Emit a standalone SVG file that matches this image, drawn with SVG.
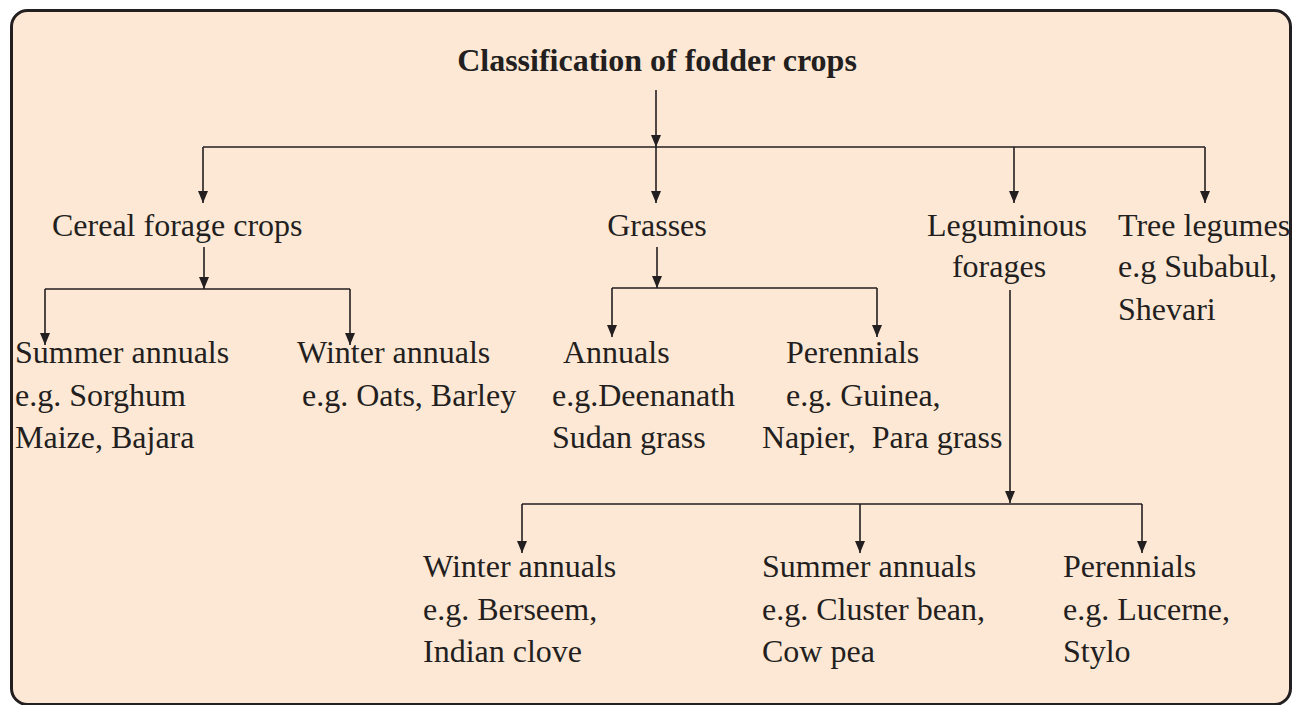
<svg xmlns="http://www.w3.org/2000/svg" width="1293" height="705" viewBox="0 0 1293 705">
<defs>
<marker id="ah" viewBox="0 0 12 10" refX="12" refY="5" markerWidth="12" markerHeight="10" markerUnits="userSpaceOnUse" orient="auto">
<path d="M0,0 L12,5 L0,10 Z" fill="#231f20"/>
</marker>
<style>
text{font-family:"Liberation Serif","Times New Roman",serif;font-size:32px;fill:#231f20;white-space:pre}
.title{font-weight:bold;font-size:32px}
.ln{fill:none;stroke:#231f20;stroke-width:1.6}
.ar{fill:none;stroke:#231f20;stroke-width:1.6;marker-end:url(#ah)}
</style>
</defs>
<rect x="11.5" y="10.5" width="1279" height="694" rx="16" fill="#fde8d6" stroke="#231f20" stroke-width="3"/>
<g id="connectors">
<path class="ar" d="M656,90 V147"/>
<path class="ln" d="M203,147 H1205"/>
<path class="ar" d="M203,147 V203"/>
<path class="ar" d="M656,147 V203"/>
<path class="ar" d="M1014,147 V203"/>
<path class="ar" d="M1205,147 V203"/>
<path class="ar" d="M204,247 V289"/>
<path class="ln" d="M45,289 H350"/>
<path class="ar" d="M45,289 V345"/>
<path class="ar" d="M350,289 V345"/>
<path class="ar" d="M657,247 V288"/>
<path class="ln" d="M612,288 H877"/>
<path class="ar" d="M612,288 V337"/>
<path class="ar" d="M877,288 V337"/>
<path class="ar" d="M1010,290 V503"/>
<path class="ln" d="M522,504 H1142"/>
<path class="ar" d="M522,504 V553"/>
<path class="ar" d="M860,504 V553"/>
<path class="ar" d="M1142,504 V553"/>
</g>
<g id="root"><text class="title" x="657" y="71" text-anchor="middle">Classification of fodder crops</text></g>
<g id="cereal"><text x="52" y="236">Cereal forage crops</text></g>
<g id="grasses"><text x="657" y="236" text-anchor="middle">Grasses</text></g>
<g id="leguminous"><text x="1007" y="236" text-anchor="middle">Leguminous</text><text x="999" y="277" text-anchor="middle">forages</text></g>
<g id="tree-legumes"><text x="1118" y="236">Tree legumes</text><text x="1118" y="277">e.g Subabul,</text><text x="1118" y="320">Shevari</text></g>
<g id="cereal-summer"><text x="15" y="363">Summer annuals</text><text x="15" y="406">e.g. Sorghum</text><text x="15" y="448">Maize, Bajara</text></g>
<g id="cereal-winter"><text x="297" y="363">Winter annuals</text><text x="302" y="406">e.g. Oats, Barley</text></g>
<g id="grass-annuals"><text x="563" y="363">Annuals</text><text x="552" y="406">e.g.Deenanath</text><text x="552" y="448">Sudan grass</text></g>
<g id="grass-perennials"><text x="786" y="363">Perennials</text><text x="786" y="406">e.g. Guinea,</text><text x="762" y="448">Napier,  Para grass</text></g>
<g id="leg-winter"><text x="423" y="577">Winter annuals</text><text x="423" y="620">e.g. Berseem,</text><text x="423" y="662">Indian clove</text></g>
<g id="leg-summer"><text x="762" y="577">Summer annuals</text><text x="762" y="620">e.g. Cluster bean,</text><text x="762" y="662">Cow pea</text></g>
<g id="leg-perennials"><text x="1063" y="577">Perennials</text><text x="1063" y="620">e.g. Lucerne,</text><text x="1063" y="662">Stylo</text></g>
</svg>
